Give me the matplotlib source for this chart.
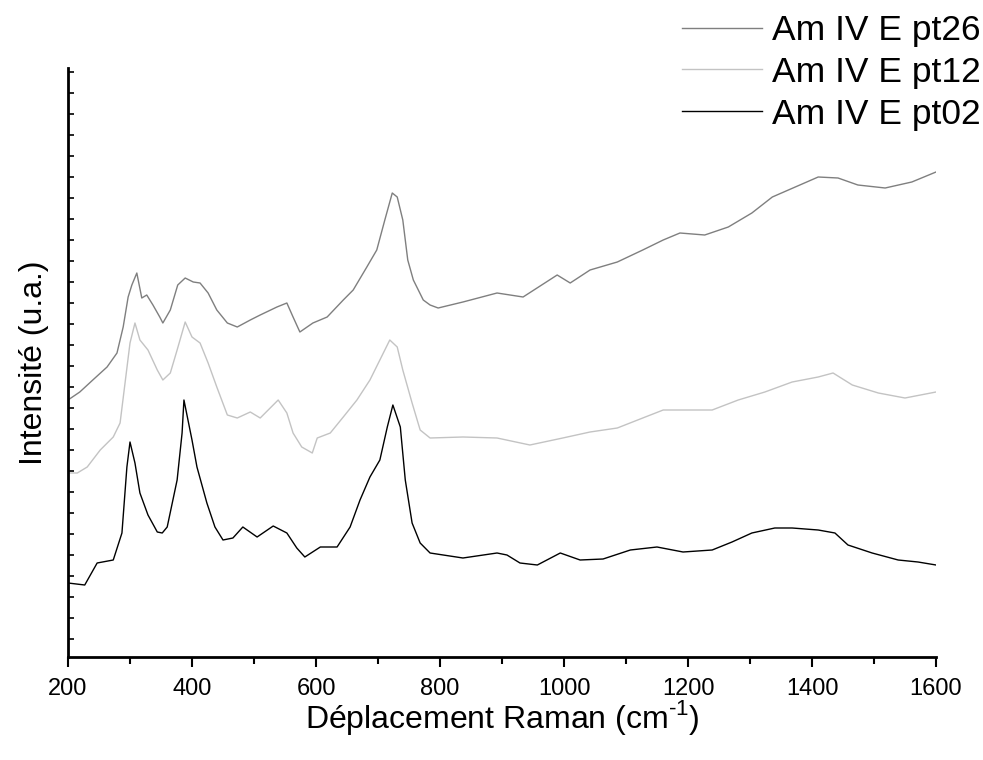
import matplotlib
matplotlib.use("Agg")
import matplotlib.pyplot as plt
import numpy as np

plt.rcParams['font.family'] = ['Liberation Sans', 'DejaVu Sans']
plt.rcParams['mathtext.fontset'] = 'custom'
plt.rcParams['mathtext.rm'] = 'Liberation Sans'

# Raman spectra (x in cm-1, intensity in arbitrary units)
x_pt02 = [200, 227, 247, 273, 287, 295, 300, 308, 316, 329, 344, 352, 360, 376,
          384, 387, 400, 408, 424, 437, 450, 466, 482, 505, 531, 553, 569, 582,
          607, 634, 655, 671, 687, 703, 715, 724, 736, 744, 755, 768, 784, 837,
          892, 908, 929, 957, 994, 1026, 1063, 1107, 1150, 1192, 1239, 1271,
          1303, 1340, 1368, 1410, 1437, 1458, 1497, 1539, 1571, 1600]
y_pt02 = [74, 72, 94, 97, 124, 190, 215, 194, 164, 142, 125, 124, 130, 177,
          224, 257, 217, 190, 154, 130, 117, 119, 130, 120, 131, 124, 109, 100,
          110, 110, 130, 157, 180, 197, 230, 252, 230, 177, 134, 114, 104, 99,
          104, 102, 94, 92, 104, 97, 98, 107, 110, 105, 107, 115,
          124, 129, 129, 127, 124, 112, 104, 97, 95, 92]

x_pt12 = [200, 215, 231, 252, 273, 284, 292, 300, 308, 316, 329, 344, 353, 365,
          376, 389, 400, 413, 426, 440, 457, 473, 494, 510, 539, 553, 563, 577,
          594, 602, 623, 644, 666, 687, 703, 719, 731, 740, 755, 768, 784, 837,
          892, 945, 998, 1042, 1086, 1127, 1160, 1195, 1239, 1281, 1324, 1368,
          1410, 1434, 1465, 1507, 1550, 1600]
y_pt12 = [184, 184, 190, 207, 220, 234, 274, 314, 334, 317, 307, 287, 277, 284,
          307, 335, 320, 314, 294, 270, 242, 239, 245, 239, 257, 244, 224, 210,
          204, 219, 224, 240, 257, 277, 297, 317, 310, 287, 254, 227, 219, 220,
          219, 212, 219, 225, 229, 239, 247, 247, 247, 257, 265, 275,
          280, 284, 272, 264, 259, 265]

x_pt26 = [200, 219, 240, 263, 279, 289, 297, 303, 311, 319, 327, 337, 348, 353,
          365, 377, 389, 402, 413, 426, 440, 457, 473, 494, 510, 537, 553, 563,
          574, 595, 618, 644, 660, 682, 698, 711, 723, 731, 740, 748, 757, 773,
          784, 797, 837, 892, 934, 989, 1010, 1042, 1086, 1127, 1160, 1187,
          1227, 1265, 1303, 1336, 1373, 1410, 1442, 1474, 1518, 1561, 1600]
y_pt26 = [257, 265, 277, 290, 304, 330, 360, 372, 384, 359, 362, 352, 340, 334,
          347, 372, 379, 375, 374, 364, 347, 334, 330, 337, 342, 350, 354, 340,
          325, 334, 340, 357, 367, 390, 407, 437, 464, 460, 437, 397, 377, 357,
          352, 349, 355, 364, 360, 382, 374, 387, 395, 407, 417, 424,
          422, 430, 444, 460, 470, 480, 479, 472, 469, 475, 485]

labels = ['Am IV E pt26', 'Am IV E pt12', 'Am IV E pt02']
colors = ['#7f7f7f', '#c3c3c3', '#000000']

fig = plt.figure(figsize=(9.83, 7.6), dpi=100)
ax = fig.add_axes([68/983, 103/760, 868/983, 589/760])

l26, = ax.plot(x_pt26, y_pt26, color=colors[0], lw=1.0)
l12, = ax.plot(x_pt12, y_pt12, color=colors[1], lw=1.0)
l02, = ax.plot(x_pt02, y_pt02, color=colors[2], lw=1.0)

ax.set_xlim(200, 1600)
ax.set_ylim(0, 589)

for s in ['top', 'right']:
    ax.spines[s].set_visible(False)
for s in ['left', 'bottom']:
    ax.spines[s].set_linewidth(2)

ax.set_xticks(np.arange(200, 1601, 200))
ax.set_xticks(np.arange(300, 1600, 200), minor=True)
ax.tick_params(axis='x', which='major', direction='out', length=7, width=1.5,
               labelsize=17, pad=8)
ax.tick_params(axis='x', which='minor', direction='out', length=5, width=1.5)

ax.set_yticks(np.arange(18.3, 589, 21))
ax.tick_params(axis='y', which='major', direction='in', length=4, width=1.2,
               labelleft=False)

ax.set_xlabel('Déplacement Raman (cm$^{\\text{-1}}$)', fontsize=23, labelpad=-1)
ax.set_ylabel('Intensité (u.a.)', fontsize=23, labelpad=14)

fig.legend([l26, l12, l02], labels, loc='upper right',
           bbox_to_anchor=(981/983, 746/760), frameon=False, fontsize=25.5,
           handlelength=2.26, handletextpad=0.28, labelspacing=0.25,
           borderpad=0, borderaxespad=0)

fig.savefig('out.png', dpi=100)
